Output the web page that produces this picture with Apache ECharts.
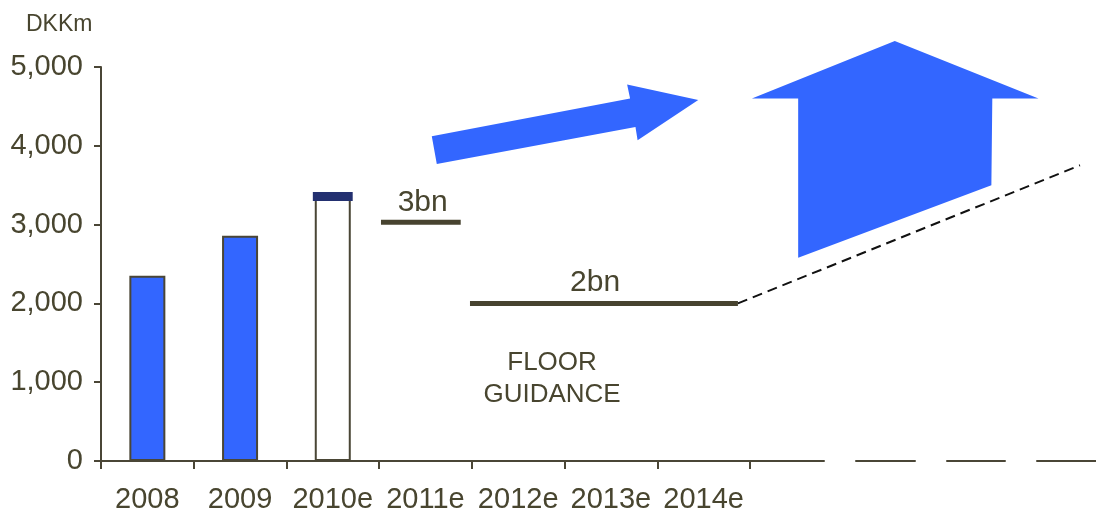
<!DOCTYPE html>
<html>
<head>
<meta charset="utf-8">
<script src="https://cdn.jsdelivr.net/npm/echarts@6/dist/echarts.min.js"></script>
<style>
html,body{margin:0;padding:0;background:#fff;}
#chart{width:1096px;height:514px;}
</style>
</head>
<body>
<div id="chart"></div>
<script>
// ---- data ----
var categories = ['2008', '2009', '2010e', '2011e', '2012e', '2013e', '2014e', '', '', '', ''];
var barValues = [2350, 2860, 3415];
var capRange = [[2.5, 3300, 3415]];           // [x, from, to] 2010e top cap
var yTicks = [0, 1000, 2000, 3000, 4000, 5000];
var line3bn = [[3.02, 3030], [3.88, 3030]];
var line2bn = [[3.98, 2000], [6.87, 2000]];
var dashedTrend = [[6.87, 2000], [10.56, 3753]];
var arrowDiag = [[3.568, 4121], [5.707, 4599], [5.675, 4777], [6.442, 4582], [5.788, 4071], [5.765, 4239], [3.622, 3770]];
var arrowUp = [[8.562, 5330], [10.112, 4599], [9.614, 4599], [9.604, 3500], [7.520, 2578], [7.520, 4599], [7.021, 4599]];
var textLabels = [
  {x: 3.47, y: 3272, text: '3bn', size: 30},
  {x: 5.33, y: 2257, text: '2bn', size: 30},
  {x: 4.865, y: 1244, text: 'FLOOR', size: 26},
  {x: 4.865, y: 838, text: 'GUIDANCE', size: 26}
];

var TXT = '#48452f';
var AX = '#4a4636';
var BLUE = '#3366ff';
var FONT = '"Liberation Sans", Arial, sans-serif';

var chart = echarts.init(document.getElementById('chart'));

function polySeries(pts) {
  return {
    type: 'custom', xAxisIndex: 1, yAxisIndex: 0, silent: true, clip: false, z: 4,
    data: [0],
    renderItem: function (params, api) {
      return {
        type: 'polygon',
        shape: {points: pts.map(function (p) { return api.coord(p); })},
        style: {fill: BLUE, stroke: null}
      };
    }
  };
}

var option = {
  animation: false,
  backgroundColor: '#fff',
  textStyle: {fontFamily: FONT},
  title: {
    text: 'DKKm', left: 21, top: 8,
    textStyle: {fontSize: 23, fontWeight: 'normal', color: TXT, fontFamily: FONT}
  },
  grid: {left: 101, top: 67, width: 1019.8, height: 394, containLabel: false, outerBoundsMode: 'none'},
  xAxis: [{
    type: 'category',
    data: categories,
    axisLine: {show: true, lineStyle: {color: AX, width: 2, type: [723, 32, 59, 32, 58, 32, 100]}},
    axisTick: {show: true, length: 8, lineStyle: {color: AX, width: 2},
      interval: function (i) { return i <= 7; }},
    axisLabel: {interval: 0, color: TXT, fontSize: 29, margin: 24, fontFamily: FONT},
    splitLine: {show: false}
  }, {
    type: 'value', min: 0, max: 11, show: false
  }],
  yAxis: {
    type: 'value', min: yTicks[0], max: yTicks[yTicks.length - 1], interval: 1000,
    axisLine: {show: true, lineStyle: {color: AX, width: 2}},
    axisTick: {show: true, length: 7, lineStyle: {color: AX, width: 2}},
    axisLabel: {color: TXT, fontSize: 29, margin: 18, fontFamily: FONT,
      formatter: function (v) { return v.toLocaleString('en-US'); }},
    splitLine: {show: false}
  },
  series: [
    {
      type: 'bar', xAxisIndex: 0, barWidth: 36, z: 2,
      data: barValues.map(function (v, i) {
        return {value: v, itemStyle: {color: i === 2 ? '#ffffff' : BLUE, borderColor: AX, borderWidth: 2}};
      })
    },
    {
      type: 'custom', xAxisIndex: 1, yAxisIndex: 0, silent: true, z: 5,
      data: capRange,
      renderItem: function (params, api) {
        var top = api.coord([api.value(0), api.value(2)]);
        var bot = api.coord([api.value(0), api.value(1)]);
        var w = api.size([1, 0])[0] * 0.43;
        return {type: 'rect', shape: {x: top[0] - w / 2, y: top[1], width: w, height: bot[1] - top[1]},
          style: {fill: '#233070'}};
      }
    },
    {type: 'line', xAxisIndex: 1, data: line3bn, symbol: 'none', silent: true,
      lineStyle: {color: '#47432f', width: 5}},
    {type: 'line', xAxisIndex: 1, data: line2bn, symbol: 'none', silent: true,
      lineStyle: {color: '#47432f', width: 5}},
    {type: 'line', xAxisIndex: 1, data: dashedTrend, symbol: 'none', silent: true,
      lineStyle: {color: '#111', width: 2, type: [10, 6]}},
    polySeries(arrowDiag),
    polySeries(arrowUp),
    {
      type: 'custom', xAxisIndex: 1, yAxisIndex: 0, silent: true, clip: false, z: 5,
      data: textLabels.map(function (t) { return [t.x, t.y]; }),
      renderItem: function (params, api) {
        var t = textLabels[params.dataIndex];
        var p = api.coord([api.value(0), api.value(1)]);
        return {type: 'text', x: p[0], y: p[1],
          style: {text: t.text, fill: TXT, font: t.size + 'px ' + FONT, align: 'center', verticalAlign: 'middle'}};
      }
    }
  ]
};
chart.setOption(option);
</script>
</body>
</html>
